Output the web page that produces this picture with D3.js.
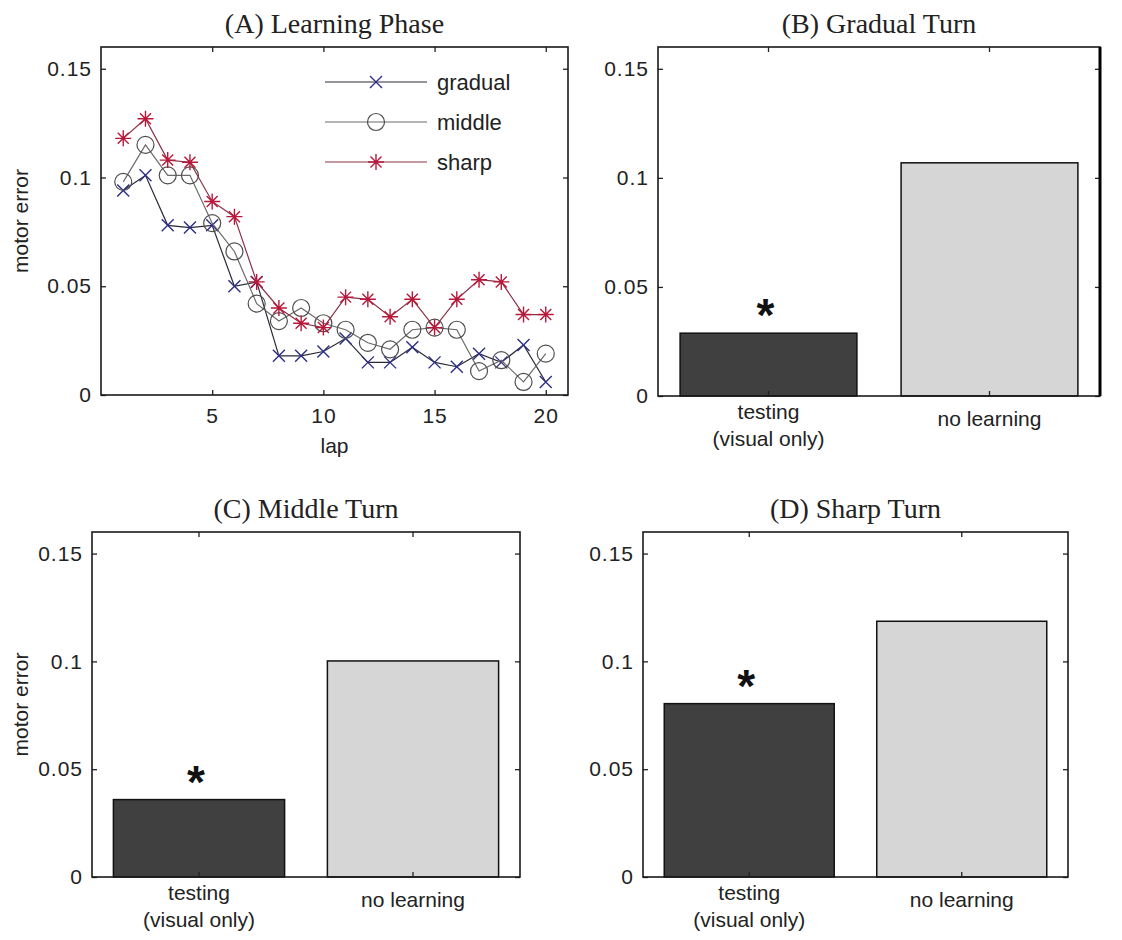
<!DOCTYPE html>
<html>
<head>
<meta charset="utf-8">
<script src="https://cdn.jsdelivr.net/npm/d3@7"></script>
<style>
  body { margin: 0; background: #fff; }
  svg { display: block; }
</style>
</head>
<body>
<div id="chart"></div>
<script>
// data
let laps = [1, 2, 3, 4, 5, 6, 7, 8, 9, 10, 11, 12, 13, 14, 15, 16, 17, 18, 19, 20];
let gradualErr = [0.094, 0.101, 0.078, 0.077, 0.078, 0.050, 0.052, 0.018, 0.018, 0.020,
                  0.026, 0.015, 0.015, 0.022, 0.015, 0.013, 0.019, 0.015, 0.023, 0.006];
let middleErr = [0.098, 0.115, 0.101, 0.101, 0.079, 0.066, 0.042, 0.034, 0.040, 0.033,
                 0.030, 0.024, 0.021, 0.030, 0.031, 0.030, 0.011, 0.016, 0.006, 0.019];
let sharpErr = [0.118, 0.127, 0.108, 0.107, 0.089, 0.082, 0.052, 0.040, 0.033, 0.031,
                0.045, 0.044, 0.036, 0.044, 0.031, 0.044, 0.053, 0.052, 0.037, 0.037];
let seriesNames = ['gradual', 'middle', 'sharp'];

let barCats = ['testing', 'no learning'];
let barLabels = [['testing', '(visual only)'], ['no learning']];
let gradualBars = [0.0288, 0.1069];
let middleBars = [0.0359, 0.1002];
let sharpBars = [0.0804, 0.1186];

let yTicks = [0, 0.05, 0.1, 0.15];
let lapTicks = [5, 10, 15, 20];

let svgWidth = 1122;
let svgHeight = 940;
let sans = '"Liberation Sans", Arial, Helvetica, sans-serif';
let serif = '"Liberation Serif", "Times New Roman", serif';

let svg = d3.select('#chart').append('svg')
    .attr('width', svgWidth)
    .attr('height', svgHeight)
    .style('font-family', sans);

let fmt = d => d === 0 ? '0' : String(d);

// common frame: box, inside ticks on all four sides, y labels
function frame(g, w, h, yScale, xAxisBottom, xAxisTop, title, yLabel, rightWidth) {
    g.append('g')
        .call(d3.axisLeft(yScale).tickValues(yTicks).tickFormat(fmt).tickSizeInner(-5).tickSizeOuter(0).tickPadding(9))
        .call(a => a.select('.domain').remove());
    g.append('g')
        .attr('transform', `translate(${w},0)`)
        .call(d3.axisRight(yScale).tickValues(yTicks).tickFormat('').tickSizeInner(-5).tickSizeOuter(0))
        .call(a => a.select('.domain').remove());
    g.append('g')
        .attr('transform', `translate(0,${h})`)
        .call(xAxisBottom)
        .call(a => a.select('.domain').remove());
    g.append('g')
        .call(xAxisTop)
        .call(a => a.select('.domain').remove());
    g.selectAll('.tick line').attr('stroke', '#222').attr('stroke-width', 1.3);
    g.selectAll('.tick text')
        .attr('font-size', 21)
        .attr('font-family', sans)
        .attr('letter-spacing', 1)
        .attr('fill', '#222');

    g.append('rect')
        .attr('width', w).attr('height', h)
        .attr('fill', 'none')
        .attr('stroke', '#1a1a1a')
        .attr('stroke-width', 1.6);
    if (rightWidth) {
        g.append('line')
            .attr('x1', w).attr('x2', w).attr('y1', 0).attr('y2', h)
            .attr('stroke', '#000').attr('stroke-width', rightWidth);
    }

    g.append('text')
        .attr('x', w / 2).attr('y', -14)
        .attr('text-anchor', 'middle')
        .attr('font-family', serif)
        .attr('font-size', 28)
        .attr('fill', '#222')
        .text(title);

    if (yLabel) {
        g.append('text')
            .attr('transform', `translate(${-g.datum().left + 28},${h / 2}) rotate(-90)`)
            .attr('text-anchor', 'middle')
            .attr('font-size', 21)
            .attr('fill', '#222')
            .text(yLabel);
    }
}

// ---------- (A) Learning Phase ----------
let pA = { left: 101, top: 47, width: 467, height: 348 };
let gA = svg.append('g').datum(pA).attr('transform', `translate(${pA.left},${pA.top})`);

let xA = d3.scaleLinear().domain([0, 21]).range([0, pA.width]);
let yA = d3.scaleLinear().domain([0, 0.16]).range([pA.height, 0]);

frame(gA, pA.width, pA.height, yA,
    d3.axisBottom(xA).tickValues(lapTicks).tickSizeInner(-5).tickSizeOuter(0).tickPadding(13),
    d3.axisTop(xA).tickValues(lapTicks).tickFormat('').tickSizeInner(-5).tickSizeOuter(0),
    '(A) Learning Phase', 'motor error');

gA.append('text')
    .attr('x', pA.width / 2).attr('y', pA.height + 58)
    .attr('text-anchor', 'middle')
    .attr('font-size', 21)
    .attr('fill', '#222')
    .text('lap');

let markerPaths = {
    x: 'M-6,-6L6,6M-6,6L6,-6',
    star: 'M-8,0H8M0,-8V8M-5.5,-5.5L5.5,5.5M-5.5,5.5L5.5,-5.5'
};

let lineSeries = [
    { name: seriesNames[0], values: gradualErr, line: '#2a2a3a', mark: '#2d2f86', marker: 'x' },
    { name: seriesNames[1], values: middleErr, line: '#6a6a6a', mark: '#4e4e4e', marker: 'circle' },
    { name: seriesNames[2], values: sharpErr, line: '#8c3045', mark: '#b8183a', marker: 'star' }
];

let lineGen = d3.line()
    .x((d, i) => xA(laps[i]))
    .y(d => yA(d));

function drawMarker(sel, s) {
    if (s.marker === 'circle') {
        sel.append('circle').attr('r', 8.5)
            .attr('fill', 'none').attr('stroke', s.mark).attr('stroke-width', 1.2);
    } else {
        sel.append('path').attr('d', markerPaths[s.marker])
            .attr('fill', 'none').attr('stroke', s.mark).attr('stroke-width', 1.4);
    }
}

lineSeries.forEach(s => {
    gA.append('path')
        .datum(s.values)
        .attr('d', lineGen)
        .attr('fill', 'none')
        .attr('stroke', s.line)
        .attr('stroke-width', 1.2);
    gA.selectAll(null)
        .data(s.values)
        .enter().append('g')
        .attr('transform', (d, i) => `translate(${xA(laps[i])},${yA(d)})`)
        .each(function () { drawMarker(d3.select(this), s); });
});

// legend (no box)
let legend = gA.append('g').attr('transform', 'translate(224,35)');
lineSeries.forEach((s, i) => {
    let row = legend.append('g').attr('transform', `translate(0,${i * 40})`);
    row.append('line').attr('x1', 0).attr('x2', 102)
        .attr('stroke', s.line).attr('stroke-width', 1.2);
    drawMarker(row.append('g').attr('transform', 'translate(51,0)'), s);
    row.append('text')
        .attr('x', 112).attr('y', 0).attr('dy', '0.35em')
        .attr('font-size', 22)
        .attr('fill', '#222')
        .text(s.name);
});

// ---------- bar panels ----------
function barPanel(p, values, title, yLabel, rightWidth) {
    let g = svg.append('g').datum(p).attr('transform', `translate(${p.left},${p.top})`);
    let x = d3.scaleBand().domain(barCats).range([0, p.width]).paddingInner(0.2).paddingOuter(0.1);
    let y = d3.scaleLinear().domain([0, 0.16]).range([p.height, 0]);

    g.selectAll('rect.bar')
        .data(values)
        .enter().append('rect')
        .attr('class', 'bar')
        .attr('x', (d, i) => x(barCats[i]))
        .attr('y', d => y(d))
        .attr('width', x.bandwidth())
        .attr('height', d => p.height - y(d))
        .attr('fill', (d, i) => i === 0 ? '#404040' : '#d6d6d6')
        .attr('stroke', '#111')
        .attr('stroke-width', 1.5);

    frame(g, p.width, p.height, y,
        d3.axisBottom(x).tickFormat('').tickSizeInner(-5).tickSizeOuter(0),
        d3.axisTop(x).tickFormat('').tickSizeInner(-5).tickSizeOuter(0),
        title, yLabel, rightWidth);

    // category labels, possibly two lines
    barLabels.forEach((lines, i) => {
        let cx = x(barCats[i]) + x.bandwidth() / 2;
        lines.forEach((t, j) => {
            g.append('text')
                .attr('x', cx)
                .attr('y', p.height + (lines.length > 1 ? 23 + j * 27 : 30))
                .attr('text-anchor', 'middle')
                .attr('font-size', 21)
                .attr('fill', '#222')
                .text(t);
        });
    });

    // significance star over the testing bar
    g.append('text')
        .attr('x', x(barCats[0]) + x.bandwidth() / 2 - 3)
        .attr('y', y(values[0]) - 2)
        .attr('text-anchor', 'middle')
        .attr('font-size', 46)
        .attr('font-weight', 'bold')
        .attr('fill', '#111')
        .text('*');
}

barPanel({ left: 658, top: 47, width: 442, height: 349 }, gradualBars, '(B) Gradual Turn', null, 3);
barPanel({ left: 92, top: 532, width: 428, height: 345 }, middleBars, '(C) Middle Turn', 'motor error');
barPanel({ left: 643, top: 532, width: 425, height: 345 }, sharpBars, '(D) Sharp Turn', null);
</script>
</body>
</html>
